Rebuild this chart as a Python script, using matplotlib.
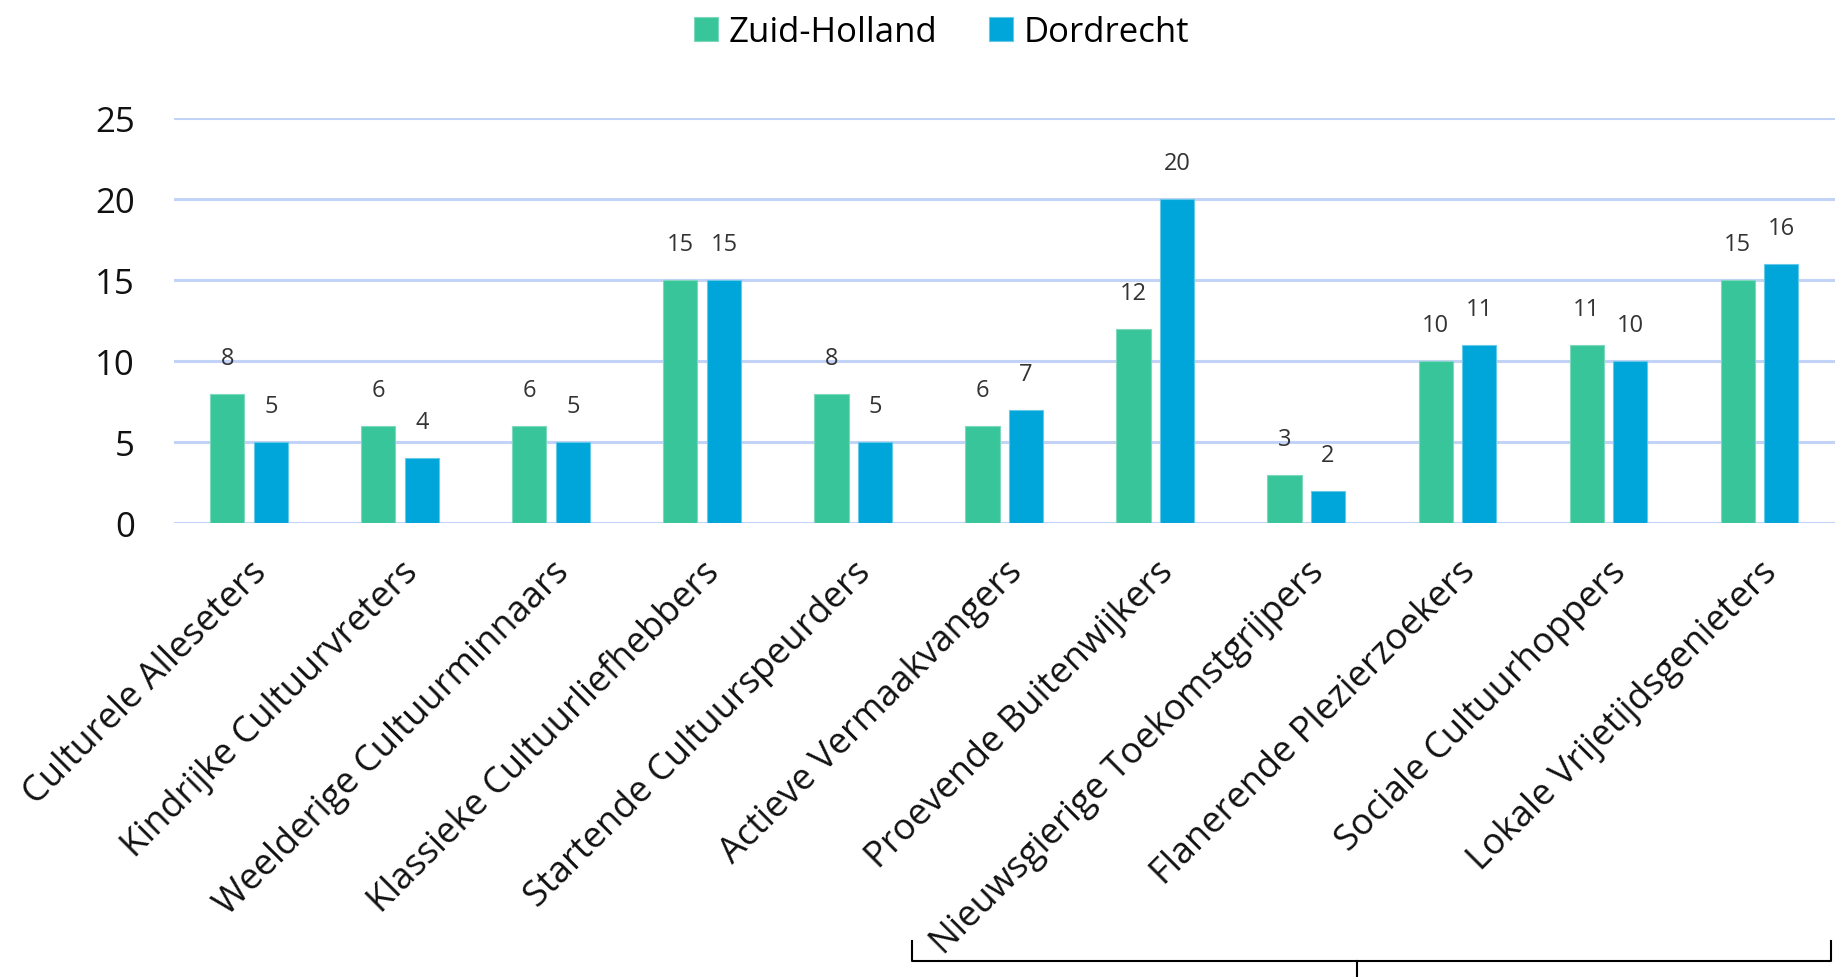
import matplotlib.pyplot as plt
from matplotlib.lines import Line2D
import numpy as np

plt.rcParams['font.family'] = ['Open Sans', 'DejaVu Sans']

categories = ['Culturele Alleseters', 'Kindrijke Cultuurvreters', 'Weelderige Cultuurminnaars',
              'Klassieke Cultuurliefhebbers', 'Startende Cultuurspeurders', 'Actieve Vermaakvangers',
              'Proevende Buitenwijkers', 'Nieuwsgierige Toekomstgrijpers', 'Flanerende Plezierzoekers',
              'Sociale Cultuurhoppers', 'Lokale Vrijetijdsgenieters']
zuid_holland = [8, 6, 6, 15, 8, 6, 12, 3, 10, 11, 15]
dordrecht = [5, 4, 5, 15, 5, 7, 20, 2, 11, 10, 16]
yticks = [0, 5, 10, 15, 20, 25]

green = '#38C59A'
blue = '#00A6D9'

fig = plt.figure(figsize=(18.46, 9.78), dpi=100)
ax = fig.add_axes([0.094, 0.464, 0.900, 0.414])

x = np.arange(len(categories))
w = 0.226
off = 0.144
b1 = ax.bar(x - off, zuid_holland, w, color=green, edgecolor='#7ED8BC', linewidth=0.8,
            label='Zuid-Holland', zorder=3)
b2 = ax.bar(x + off, dordrecht, w, color=blue, edgecolor='#66C9E8', linewidth=0.8,
            label='Dordrecht', zorder=3)

for bars in (b1, b2):
    for r in bars:
        ax.annotate(str(int(r.get_height())), (r.get_x() + r.get_width() / 2, r.get_height()),
                    xytext=(0, 26), textcoords='offset points', ha='center', va='center',
                    fontsize=17, color='#333333')

ax.set_xlim(-0.5, len(categories) - 0.5)
ax.set_ylim(0, 25)
ax.set_yticks(yticks)
ax.tick_params(axis='y', labelsize=25, length=0, pad=28, labelcolor='#111111')
ax.tick_params(axis='x', length=0, pad=22)
ax.set_xticks(x)
ax.set_xticklabels(categories, rotation=45, ha='right', va='top', rotation_mode='anchor',
                   fontsize=26, color='#111111')
ax.yaxis.grid(True, color='#C3D2F7', linewidth=2.2, zorder=0)
ax.set_axisbelow(True)
for s in ax.spines.values():
    s.set_visible(False)

fig.legend(handles=[b1, b2], loc='center', bbox_to_anchor=(0.51, 0.966), ncol=2,
           frameon=False, fontsize=25, handlelength=0.7, handleheight=0.7,
           handletextpad=0.3, columnspacing=1.5)

# bracket under the last groups
bx0, bx1, bxm = 912 / 1846, 1831 / 1846, 1357 / 1846
by, byt = 1 - 962 / 978, 1 - 942 / 978
fig.add_artist(Line2D([bx0, bx0, bx1, bx1], [byt, by, by, byt], color='black', lw=1.5))
fig.add_artist(Line2D([bxm, bxm], [by, 0], color='black', lw=1.5))

fig.savefig('out.png', dpi=100)
